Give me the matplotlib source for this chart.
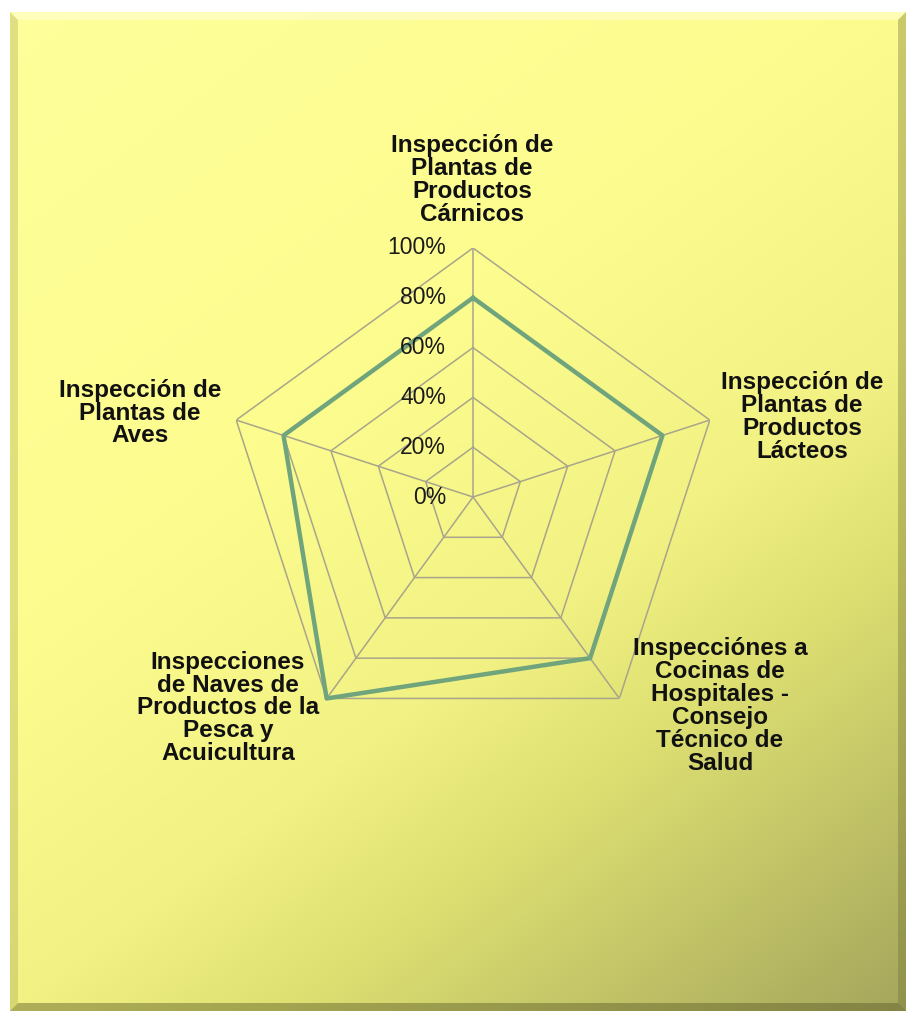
import numpy as np
import matplotlib.pyplot as plt
from matplotlib.patches import Polygon
from matplotlib import transforms

categories = ['Inspección de\nPlantas de\nProductos\nCárnicos',
              'Inspección de\nPlantas de\nProductos\nLácteos',
              'Inspecciónes a\nCocinas de\nHospitales -\nConsejo\nTécnico de\nSalud',
              'Inspecciones\nde Naves de\nProductos de la\nPesca y\nAcuicultura',
              'Inspección de\nPlantas de\nAves']
values = [0.80, 0.80, 0.80, 1.00, 0.80]
levels = [0.0, 0.2, 0.4, 0.6, 0.8, 1.0]
level_labels = ['0%', '20%', '40%', '60%', '80%', '100%']

W, H = 913, 1019
fig = plt.figure(figsize=(W / 100, H / 100), dpi=100)
plt.rcParams['font.family'] = ['Liberation Sans', 'DejaVu Sans']

# background frame with gradient
bg = fig.add_axes([0, 0, 1, 1])
bg.set_xlim(0, W)
bg.set_ylim(H, 0)
bg.axis('off')
x0, x1, y0, y1 = 10, 906, 12, 1011
xx, yy = np.meshgrid(np.linspace(0, 1, 300), np.linspace(0, 1, 300))
t = 0.4 * xx + 0.6 * yy
stops = [0, 0.4, 0.6, 0.72, 1.0]
r = np.interp(t, stops, [255, 252, 242, 222, 165])
g = np.interp(t, stops, [255, 252, 241, 224, 166])
b = np.interp(t, stops, [155, 142, 132, 114, 92])
img = np.dstack([r, g, b]) / 255
bg.imshow(img, extent=[x0, x1, y1, y0], aspect='auto', interpolation='bilinear')
bw = 8
bg.add_patch(Polygon([[x0, y0], [x1, y0], [x1 - bw, y0 + bw], [x0 + bw, y0 + bw]], color='white', alpha=0.35, lw=0))
bg.add_patch(Polygon([[x0, y0], [x0 + bw, y0 + bw], [x0 + bw, y1 - bw], [x0, y1]], color='#8a8a40', alpha=0.25, lw=0))
bg.add_patch(Polygon([[x0, y1], [x0 + bw, y1 - bw], [x1 - bw, y1 - bw], [x1, y1]], color='#5c5c28', alpha=0.45, lw=0))
bg.add_patch(Polygon([[x1, y0], [x1 - bw, y0 + bw], [x1 - bw, y1 - bw], [x1, y1]], color='#6c6c30', alpha=0.35, lw=0))

# radar
cx, cy, rad = 473, 497, 249
ax = fig.add_axes([(cx - rad) / W, (H - cy - rad) / H, 2 * rad / W, 2 * rad / H], polar=True)
ax.set_theta_offset(np.pi / 2)
ax.set_theta_direction(-1)
ax.patch.set_alpha(0)
ax.spines['polar'].set_visible(False)
ax.grid(False)
ax.set_xticks([])
ax.set_yticks([])
ax.set_ylim(0, 1)

n = len(categories)
theta = np.linspace(0, 2 * np.pi, n, endpoint=False)
theta_c = np.append(theta, theta[0])
grid_col = '#a8a58a'
for lv in levels[1:]:
    ax.plot(theta_c, [lv] * (n + 1), color=grid_col, lw=1.1, zorder=1)
for th in theta:
    ax.plot([th, th], [0, 1], color=grid_col, lw=1.1, zorder=1)

ax.plot(theta_c, values + values[:1], color='#70a47c', lw=3.2, zorder=3, clip_on=False)

tick_tr = transforms.offset_copy(ax.transData, fig=fig, x=-27, y=0, units='dots')
for lv, lab in zip(levels, level_labels):
    ax.text(0, lv, lab, ha='right', va='center', fontsize=16.5, color='#1a1a1a',
            transform=tick_tr, clip_on=False)

# category labels
label_pos = [(472, 180), (802, 417), (720, 706), (228, 708), (140, 413)]
for lab, (px, py) in zip(categories, label_pos):
    fig.text(px / W, 1 - py / H, lab, ha='center', va='center', fontsize=17.5,
             fontweight='bold', color='#111111', linespacing=1.0)

fig.savefig('out.png', dpi=100)
